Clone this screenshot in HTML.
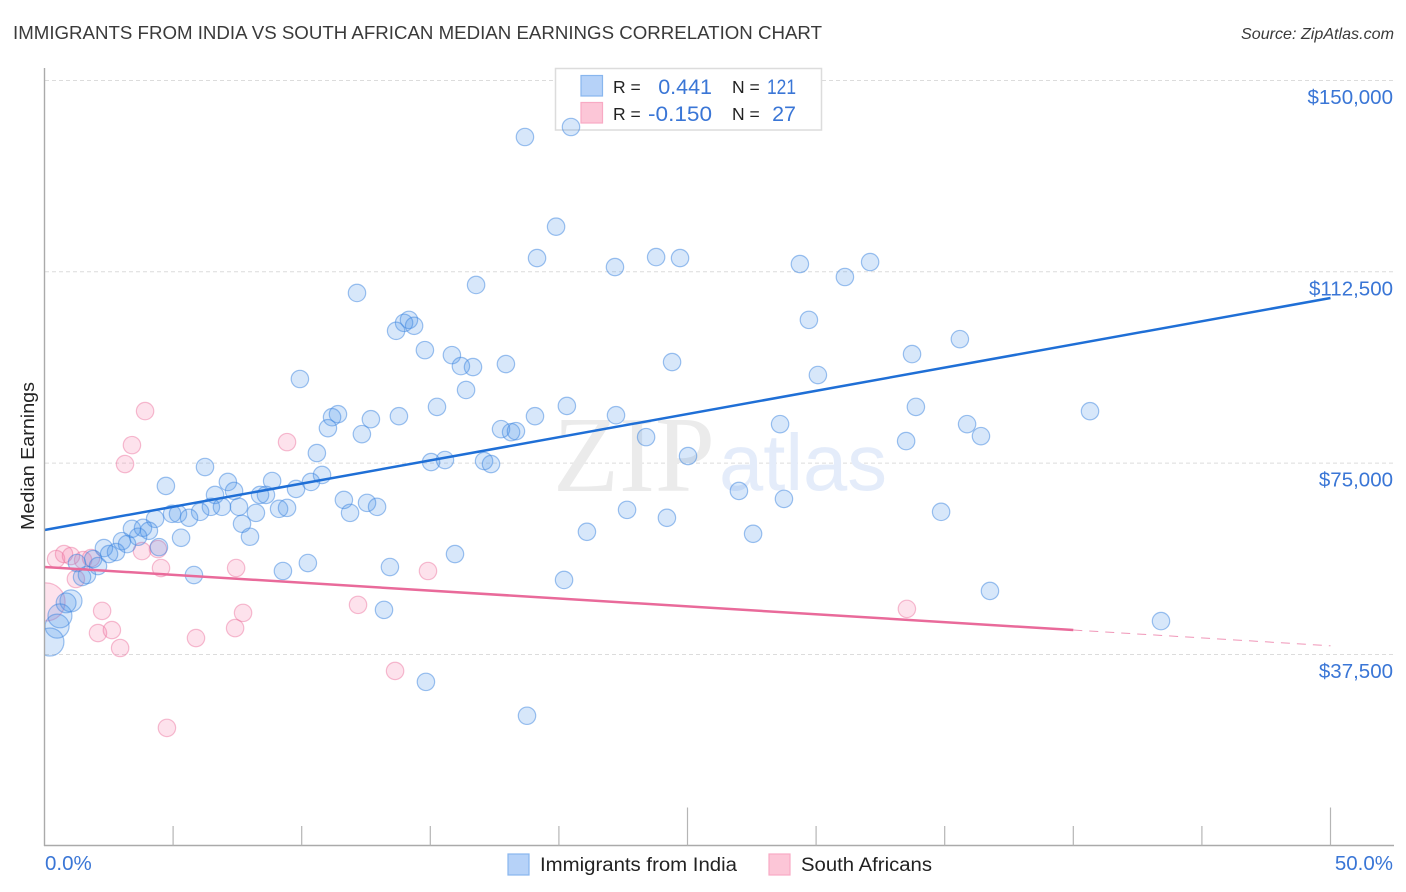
<!DOCTYPE html>
<html lang="en">
<head>
<meta charset="utf-8">
<title>Immigrants from India vs South African Median Earnings Correlation Chart</title>
<style>
html,body{margin:0;padding:0;background:#fff;width:1406px;height:892px;overflow:hidden}
svg{display:block;font-family:"Liberation Sans",sans-serif}
</style>
</head>
<body>
<svg id="chart" width="1406" height="892" viewBox="0 0 1406 892" xmlns="http://www.w3.org/2000/svg">
  <defs>
    <clipPath id="plot-clip"><rect x="45" y="60" width="1349" height="786"/></clipPath>
  </defs>
  <rect x="0" y="0" width="1406" height="892" fill="#fff"/>
  <text x="13" y="39" font-size="18.5" fill="#3a3a3a" textLength="809" lengthAdjust="spacingAndGlyphs">IMMIGRANTS FROM INDIA VS SOUTH AFRICAN MEDIAN EARNINGS CORRELATION CHART</text>
  <text x="1394" y="39" font-size="16" font-style="italic" fill="#3a3a3a" text-anchor="end" textLength="153" lengthAdjust="spacingAndGlyphs">Source: ZipAtlas.com</text>
  <text transform="translate(34,530) rotate(-90)" font-size="18" fill="#222" textLength="148" lengthAdjust="spacingAndGlyphs">Median Earnings</text>
  <g id="grid"></g>
  <g>
    <text x="553" y="491" font-family="'Liberation Serif',serif" font-size="108" fill="#ebebeb" textLength="162" lengthAdjust="spacingAndGlyphs">ZIP</text>
    <text x="719" y="490" font-size="80" fill="#e4ecfa" textLength="168" lengthAdjust="spacingAndGlyphs">atlas</text>
  </g>
  <g>
    <rect x="555.5" y="68.5" width="266" height="61.5" fill="#fff" stroke="#dcdcdc" stroke-width="1.5"/>
    <rect x="581" y="75.5" width="21.5" height="20.5" fill="#b6d2f8" stroke="#88b6ee" stroke-width="1.2"/>
    <rect x="581" y="102.5" width="21.5" height="20.5" fill="#fcc6d7" stroke="#f8aac4" stroke-width="1.2"/>
    <text x="613" y="93" font-size="17.5" fill="#222">R =</text>
    <text x="712" y="94" font-size="21.5" fill="#3a76d6" text-anchor="end">0.441</text>
    <text x="732" y="93" font-size="17.5" fill="#222">N =</text>
    <text x="796" y="94" font-size="21.5" fill="#3a76d6" text-anchor="end" textLength="29" lengthAdjust="spacingAndGlyphs">121</text>
    <text x="613" y="120" font-size="17.5" fill="#222">R =</text>
    <text x="712" y="121" font-size="21.5" fill="#3a76d6" text-anchor="end" textLength="64" lengthAdjust="spacingAndGlyphs">-0.150</text>
    <text x="732" y="120" font-size="17.5" fill="#222">N =</text>
    <text x="796" y="121" font-size="21.5" fill="#3a76d6" text-anchor="end">27</text>
  </g>
  <g id="points" clip-path="url(#plot-clip)"></g>
  <g id="trends"></g>
  <g id="axes"></g>
  <g>
    <rect x="508" y="854" width="21" height="21" fill="#b6d2f8" stroke="#88b6ee" stroke-width="1.2"/>
    <text x="540" y="871" font-size="19" fill="#222" textLength="197" lengthAdjust="spacingAndGlyphs">Immigrants from India</text>
    <rect x="769" y="854" width="21" height="21" fill="#fcc6d7" stroke="#f8aac4" stroke-width="1.2"/>
    <text x="801" y="871" font-size="19" fill="#222" textLength="131" lengthAdjust="spacingAndGlyphs">South Africans</text>
  </g>
</svg>
<script>
const yTickValues = [37.5, 75, 112.5, 150];
const yTickLabels = ["$37,500", "$75,000", "$112,500", "$150,000"];
const xTickValues = [5, 10, 15, 20, 25, 30, 35, 40, 45, 50];
const xMajorTicks = [25, 50];
const xEndLabels = ["0.0%", "50.0%"];

const indiaShare = [
18.68,20.47,19.89,19.15,22.18,23.78,24.71,29.37,31.12,32.10,
16.78,12.15,14.17,13.98,14.37,13.67,29.72,35.59,14.79,15.84,
33.73,16.19,16.66,17.94,24.40,9.93,30.07,16.39,15.26,20.31,
11.41,11.18,12.69,13.78,19.07,22.22,33.88,40.65,11.02,12.34,
17.75,18.14,18.33,23.39,28.60,35.87,36.41,33.50,10.59,15.03,
15.57,17.09,17.36,25.02,6.24,10.79,8.85,7.13,4.72,7.37,
10.36,9.78,6.63,8.38,8.61,27.00,28.75,11.64,12.54,12.93,
9.12,9.43,6.47,6.90,7.56,6.05,4.96,5.19,5.62,8.22,
11.88,4.30,22.65,34.86,24.20,7.68,3.40,3.83,4.06,5.31,
7.99,21.09,27.55,3.01,3.64,3.21,2.31,2.78,4.45,2.51,
15.96,10.24,1.89,2.08,13.43,9.27,5.81,20.20,1.65,1.46,
36.76,13.20,43.41,14.83,18.76,1.03,0.84,0.60,0.49,0.21,
1.26];
const indiaEarningsK = [
138.92,140.88,121.34,115.19,113.43,115.38,115.19,114.02,111.48,114.41,
109.92,108.35,103.08,102.49,101.91,100.93,103.08,99.30,97.15,96.17,
96.37,94.02,93.83,94.42,94.81,91.49,92.27,89.34,86.02,86.21,
84.59,84.00,83.61,84.20,84.20,84.39,86.02,85.18,81.85,80.68,
81.66,81.07,81.27,80.10,82.64,82.64,80.29,79.32,76.97,75.21,
75.61,75.41,74.82,76.39,74.24,72.68,71.50,71.31,70.53,69.55,
71.31,69.94,68.77,68.77,68.77,69.55,67.99,67.79,67.21,66.43,
66.04,66.23,66.43,66.43,66.43,65.45,65.06,65.06,64.28,65.25,
65.25,64.08,65.84,65.45,64.28,63.11,62.13,62.32,61.74,60.37,
60.57,61.54,61.15,59.71,60.57,59.13,58.35,57.57,58.54,57.18,
57.18,55.42,56.20,54.83,54.64,53.86,53.07,52.10,53.07,52.68,
49.95,46.24,44.04,32.13,25.49,48.00,47.61,45.07,43.06,39.94,
55.42];
const indiaWeight = [
1,1,1,1,1,1,1,1,1,1, 1,1,1,1,1,1,1,1,1,1,
1,1,1,1,1,1,1,1,1,1, 1,1,1,1,1,1,1,1,1,1,
1,1,1,1,1,1,1,1,1,1, 1,1,1,1,1,1,1,1,1,1,
1,1,1,1,1,1,1,1,1,1, 1,1,1,1,1,1,1,1,1,1,
1,1,1,1,1,1,1,1,1,1, 1,1,1,1,1,1,1,1,1,1,
1,1,1,1,1,1,1,1,1,1, 1,1,1,1,1,1.6,1.3,1.9,1.9,2.6,
1];

const southAfricanShare = [
0.45,0.76,1.03,1.50,1.81,1.22,3.79,4.41,4.53,7.45,
2.24,2.08,2.62,2.94,5.89,7.41,7.72,4.76,0.06,12.19,
13.63,14.91,33.53,9.43,3.40,3.13,3.91];
const southAfricanEarningsK = [
56.20,57.18,56.79,56.00,56.39,52.29,57.76,58.15,54.44,54.44,
46.04,41.70,42.28,38.77,40.72,42.67,45.65,23.11,47.80,47.22,
34.27,53.86,46.43,79.12,78.53,74.82,85.20];
const southAfricanWeight = [
1,1,1,1,1,1,1,1,1,1, 1,1,1,1,1,1,1,1,4.8,1, 1,1,1,1,1,1,1];

const indiaTrendShare = [0, 50];
const indiaTrendK = [61.9, 107.36];
const southAfricanTrendShare = [0, 50];
const southAfricanTrendK = [54.65, 39.2];
const southAfricanSolidEnd = 40;

const NS = "http://www.w3.org/2000/svg";
const xAxis = v => 44.5 + v * 25.72;
const yAxis = k => 845.8 - k * 5.1022;
const radius = w => 8.7 * Math.sqrt(w);

function make(parent, tag, attrs, text) {
  const el = document.createElementNS(NS, tag);
  for (const key in attrs) el.setAttribute(key, attrs[key]);
  if (text !== undefined) el.textContent = text;
  parent.appendChild(el);
  return el;
}

const grid = document.getElementById("grid");
const axes = document.getElementById("axes");
const pointsLayer = document.getElementById("points");
const trends = document.getElementById("trends");

yTickValues.forEach((k, i) => {
  const line = make(grid, "line", {x1: 45, x2: 1394, y1: yAxis(k), y2: yAxis(k), stroke: "#dcdcdc", "stroke-width": 1, "stroke-dasharray": "4 3"});
  
  
  const label = make(axes, "text", {x: 1393, y: yAxis(k) + 23.5, "font-size": 20.5, fill: "#3a76d6", "text-anchor": "end"}, yTickLabels[i]);
  
  
});

const yAxisLine = make(axes, "line", {x1: 44.5, x2: 44.5, y1: 68, y2: 846, stroke: "#aaa", "stroke-width": 1.4});


const xAxisLine = make(axes, "line", {x1: 44, x2: 1394, y1: 845.5, y2: 845.5, stroke: "#aaa", "stroke-width": 1.4});



xTickValues.forEach(v => {
  const top = xMajorTicks.includes(v) ? 807.5 : 826;
  const tick = make(axes, "line", {x1: xAxis(v), x2: xAxis(v), y1: top, y2: 845.5, stroke: "#b5b5b5", "stroke-width": 1.2});
  
  
});

const xStart = make(axes, "text", {x: 45, y: 870, "font-size": 20.5, fill: "#3a76d6"}, xEndLabels[0]);


const xEnd = make(axes, "text", {x: 1393, y: 870, "font-size": 20.5, fill: "#3a76d6", "text-anchor": "end"}, xEndLabels[1]);



southAfricanShare.forEach((v, i) => {
  const dot = make(pointsLayer, "circle", {
    cx: xAxis(v), cy: yAxis(southAfricanEarningsK[i]), r: radius(southAfricanWeight[i]),
    fill: "#f4709f", "fill-opacity": 0.2, stroke: "#ec6f9c", "stroke-opacity": 0.45, "stroke-width": 1.2
  });
  
  
});

indiaShare.forEach((v, i) => {
  const dot = make(pointsLayer, "circle", {
    cx: xAxis(v), cy: yAxis(indiaEarningsK[i]), r: radius(indiaWeight[i]),
    fill: "#4a90ea", "fill-opacity": 0.22, stroke: "#3d85e0", "stroke-opacity": 0.5, "stroke-width": 1.2
  });
  
  
});

const indiaLine = make(trends, "line", {
  x1: xAxis(indiaTrendShare[0]), y1: yAxis(indiaTrendK[0]),
  x2: xAxis(indiaTrendShare[1]), y2: yAxis(indiaTrendK[1]),
  stroke: "#1f6fd6", "stroke-width": 2.5
});



const saSlope = (southAfricanTrendK[1] - southAfricanTrendK[0]) / (southAfricanTrendShare[1] - southAfricanTrendShare[0]);
const saMidK = southAfricanTrendK[0] + saSlope * (southAfricanSolidEnd - southAfricanTrendShare[0]);
const saSolid = make(trends, "line", {
  x1: xAxis(southAfricanTrendShare[0]), y1: yAxis(southAfricanTrendK[0]),
  x2: xAxis(southAfricanSolidEnd), y2: yAxis(saMidK),
  stroke: "#e96a9a", "stroke-width": 2.5
});


const saDashed = make(trends, "line", {
  x1: xAxis(southAfricanSolidEnd), y1: yAxis(saMidK),
  x2: xAxis(southAfricanTrendShare[1]), y2: yAxis(southAfricanTrendK[1]),
  stroke: "#e96a9a", "stroke-width": 1, "stroke-dasharray": "9 7", "stroke-opacity": 0.7
});


</script>
</body>
</html>
